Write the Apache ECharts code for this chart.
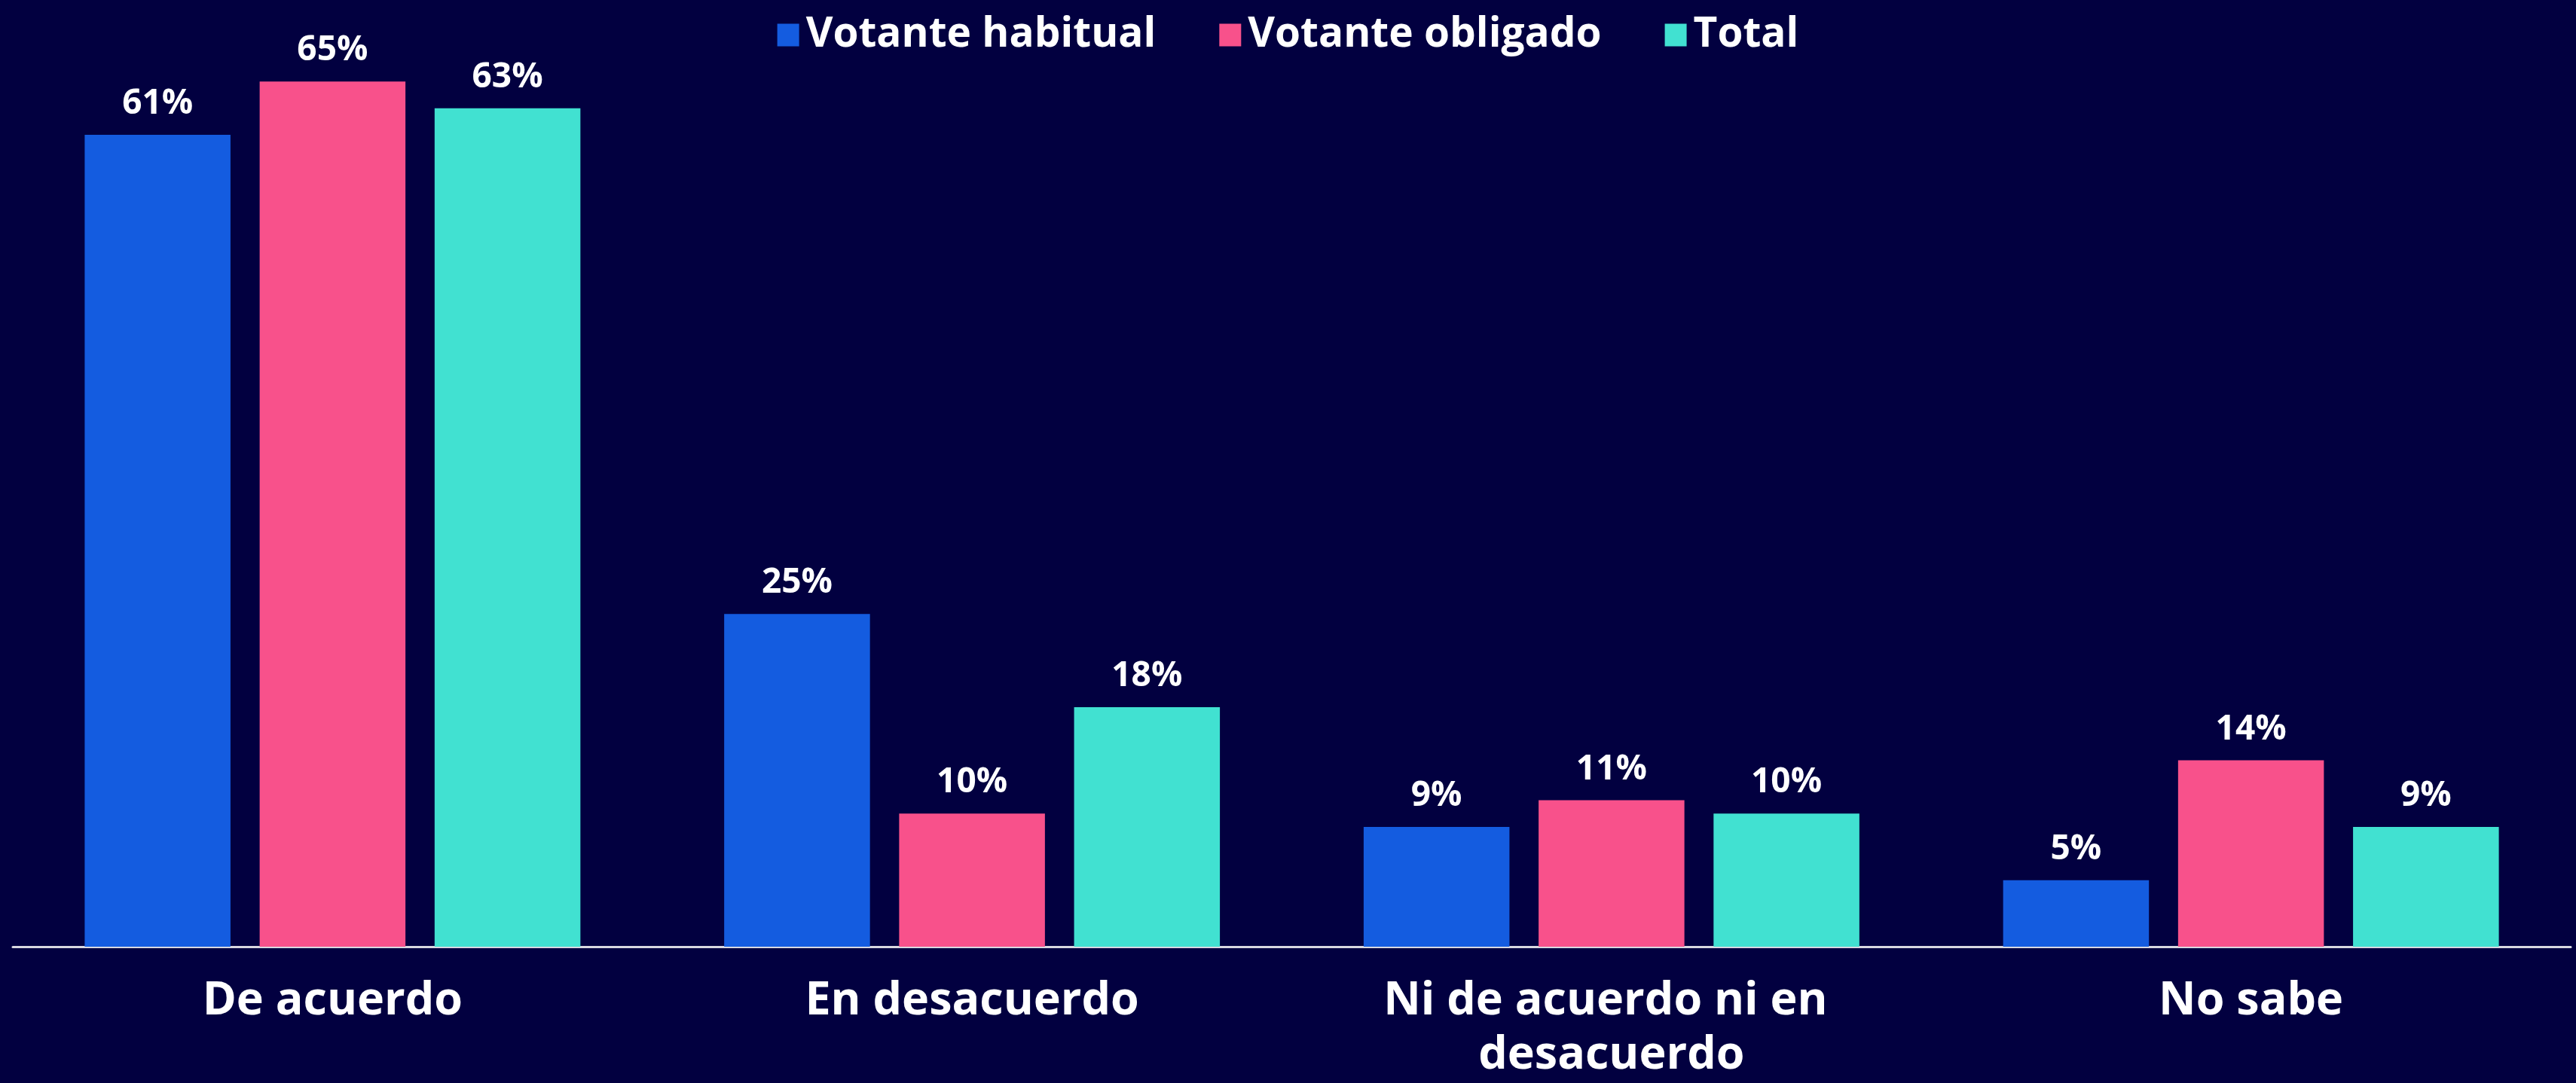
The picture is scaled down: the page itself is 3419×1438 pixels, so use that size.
<!DOCTYPE html>
<html>
<head>
<meta charset="utf-8">
<script src="https://cdn.jsdelivr.net/npm/echarts@6/dist/echarts.min.js"></script>
<style>
html,body{margin:0;padding:0;background:#020040;}
#chart{width:3419px;height:1438px;}
</style>
</head>
<body>
<div id="chart"></div>
<script>
const categories = ['De acuerdo', 'En desacuerdo', 'Ni de acuerdo ni en desacuerdo', 'No sabe'];
const seriesNames = ['Votante habitual', 'Votante obligado', 'Total'];
const habitual = [61, 25, 9, 5];
const obligado = [65, 10, 11, 14];
const total = [63, 18, 10, 9];
const colors = ['#145ce0', '#f8518b', '#41e1d1'];

const FONT = '"Open Sans", "Noto Sans", sans-serif';
const chart = echarts.init(document.getElementById('chart'), null, {renderer: 'canvas'});
const values = [habitual, obligado, total];

chart.setOption({
  backgroundColor: '#020040',
  animation: false,
  legend: {
    top: 14,
    left: 'center',
    icon: 'rect',
    itemWidth: 29,
    itemHeight: 30,
    itemGap: 84,
    textStyle: {color: '#ffffff', fontSize: 55, fontWeight: 'bold', fontFamily: FONT, lineHeight: 54, padding: [0, 0, 0, 4]},
    data: seriesNames
  },
  grid: {left: 17, right: 7, top: 20, bottom: 172, containLabel: false},
  xAxis: {
    type: 'category',
    data: categories,
    axisLine: {show: true, lineStyle: {color: '#d8d8e0', width: 3}},
    axisTick: {show: false},
    axisLabel: {
      interval: 0,
      color: '#ffffff',
      fontSize: 61,
      fontWeight: 'bold',
      fontFamily: FONT,
      lineHeight: 72,
      margin: 37,
      width: 700,
      overflow: 'break'
    }
  },
  yAxis: {
    type: 'value',
    min: 0,
    max: 70,
    show: false,
    splitLine: {show: false}
  },
  series: seriesNames.map((name, i) => ({
    name: name,
    type: 'bar',
    data: values[i],
    barWidth: '22.8%',
    barGap: '20%',
    itemStyle: {color: colors[i]},
    label: {
      show: true,
      position: 'top',
      distance: 18,
      color: '#ffffff',
      fontSize: 46,
      fontWeight: 'bold',
      fontFamily: FONT,
      formatter: p => p.value + '%'
    }
  }))
});
</script>
</body>
</html>
